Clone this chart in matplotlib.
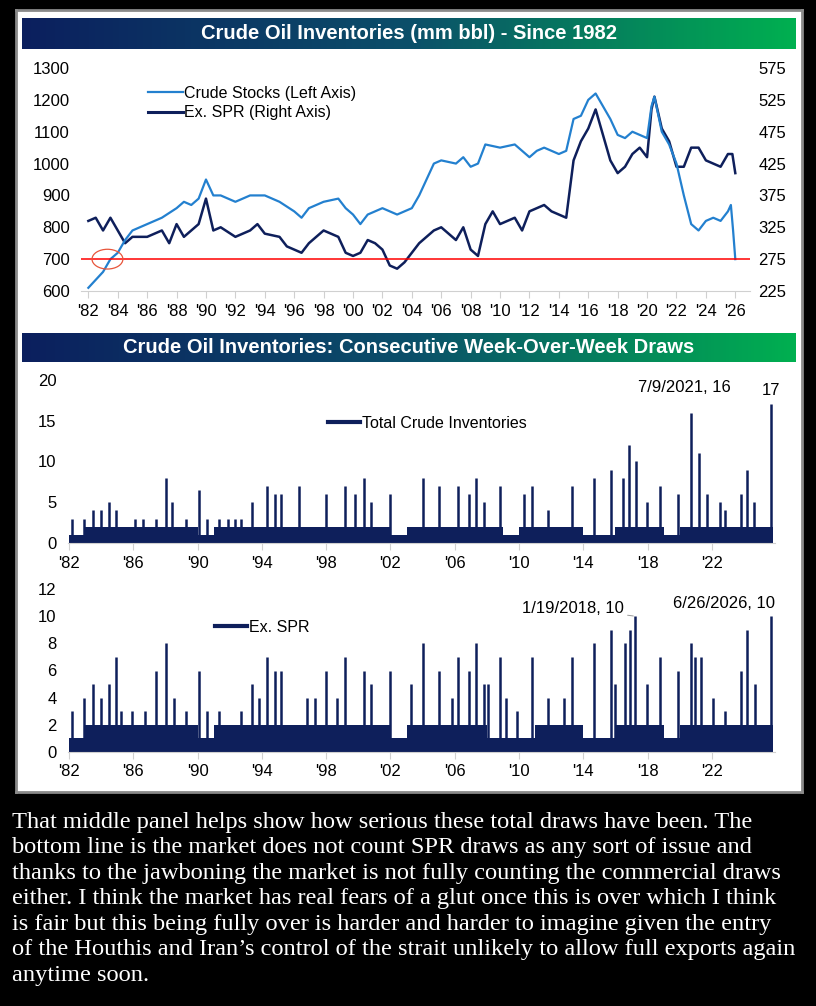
import matplotlib.pyplot as plt
import numpy as np
from matplotlib import font_manager
from matplotlib.patches import Ellipse
from matplotlib.colors import LinearSegmentedColormap

names = {f.name for f in font_manager.fontManager.ttflist}
SANS = ["Liberation Sans Narrow", "DejaVu Sans"] if "Liberation Sans Narrow" in names else ["Liberation Sans", "DejaVu Sans"]
plt.rcParams["font.family"] = SANS

NAVY = "#0E1F5B"
BLUE = "#2380CF"
GREY = "#D0D0D0"

# --- top panel: total crude stocks (left axis, mm bbl)
stock_years = [1982.0, 1983.0, 1983.5, 1984.0, 1984.5, 1985.0, 1986.0, 1987.0, 1988.0, 1988.5,
               1989.0, 1989.5, 1990.0, 1990.5, 1991.0, 1992.0, 1993.0, 1994.0, 1995.0, 1996.0,
               1996.5, 1997.0, 1998.0, 1999.0, 1999.5, 2000.0, 2000.5, 2001.0, 2002.0, 2003.0,
               2004.0, 2004.5, 2005.0, 2005.5, 2006.0, 2007.0, 2007.5, 2008.0, 2008.5, 2009.0,
               2010.0, 2011.0, 2012.0, 2012.5, 2013.0, 2014.0, 2014.5, 2015.0, 2015.5, 2016.0,
               2016.5, 2017.0, 2017.5, 2018.0, 2018.5, 2019.0, 2019.5, 2020.0, 2020.3, 2020.5,
               2021.0, 2021.5, 2022.0, 2022.5, 2023.0, 2023.5, 2024.0, 2024.5, 2025.0, 2025.5,
               2025.7, 2025.85, 2026.0]
stock_vals = [610, 660, 700, 720, 760, 790, 810, 830, 860, 880,
              870, 890, 950, 900, 900, 880, 900, 900, 880, 850,
              830, 860, 880, 890, 860, 840, 810, 840, 860, 840,
              860, 900, 950, 1000, 1010, 1000, 1020, 990, 1000, 1060,
              1050, 1060, 1020, 1040, 1050, 1030, 1040, 1140, 1150, 1200,
              1220, 1180, 1140, 1090, 1080, 1100, 1090, 1080, 1180, 1210,
              1100, 1060, 1000, 900, 810, 790, 820, 830, 820, 850,
              870, 790, 700]

# Ex. SPR (right axis)
spr_years = [1982.0, 1982.5, 1983.0, 1983.5, 1984.0, 1984.5, 1985.0, 1986.0, 1987.0, 1987.5,
             1988.0, 1988.5, 1989.0, 1989.5, 1990.0, 1990.5, 1991.0, 1992.0, 1993.0, 1993.5,
             1994.0, 1995.0, 1995.5, 1996.0, 1996.5, 1997.0, 1998.0, 1998.5, 1999.0, 1999.5,
             2000.0, 2000.5, 2001.0, 2001.5, 2002.0, 2002.5, 2003.0, 2003.5, 2004.0, 2004.5,
             2005.0, 2005.5, 2006.0, 2007.0, 2007.5, 2008.0, 2008.5, 2009.0, 2009.5, 2010.0,
             2011.0, 2011.5, 2012.0, 2013.0, 2013.5, 2014.0, 2014.5, 2015.0, 2015.5, 2016.0,
             2016.5, 2017.0, 2017.5, 2018.0, 2018.5, 2019.0, 2019.5, 2020.0, 2020.3, 2020.5,
             2021.0, 2021.5, 2022.0, 2022.5, 2023.0, 2023.5, 2024.0, 2024.5, 2025.0, 2025.5,
             2025.8, 2026.0]
spr_vals = [335, 340, 320, 340, 320, 300, 310, 310, 320, 300,
            330, 310, 320, 330, 370, 320, 325, 310, 320, 330,
            315, 310, 295, 290, 285, 300, 320, 315, 310, 285,
            280, 285, 305, 300, 290, 265, 260, 270, 285, 300,
            310, 320, 325, 305, 325, 290, 280, 330, 350, 330,
            340, 320, 350, 360, 350, 345, 340, 430, 460, 480,
            510, 470, 430, 410, 420, 440, 450, 435, 510, 530,
            480, 460, 420, 420, 450, 450, 430, 425, 420, 440,
            440, 410]

# --- consecutive week-over-week draws
floor_years = list(range(1982, 2026))
total_floor = [1, 2, 2, 2, 2, 2, 2, 2, 1, 2, 2, 2, 2, 2, 2, 2, 2, 2, 2, 2, 1, 2,
               2, 2, 2, 2, 2, 1, 2, 2, 2, 2, 1, 1, 2, 2, 2, 1, 2, 2, 2, 2, 2, 2]
spr_floor = [1, 2, 2, 2, 2, 2, 2, 2, 1, 2, 2, 2, 2, 2, 2, 2, 2, 2, 2, 2, 1, 2,
             2, 2, 2, 2, 1, 1, 1, 2, 2, 2, 1, 1, 2, 2, 2, 1, 2, 2, 2, 2, 2, 2]

total_spike_years = [1982.2, 1982.9, 1983.5, 1984.0, 1984.5, 1984.9, 1986.1, 1986.6, 1987.4, 1988.05,
                     1988.4, 1989.3, 1990.1, 1990.6, 1991.3, 1991.9, 1992.3, 1992.7, 1993.4, 1994.3,
                     1994.8, 1995.2, 1996.3, 1998.0, 1999.2, 1999.8, 2000.35, 2000.8, 2002.0, 2004.0,
                     2005.0, 2006.2, 2006.9, 2007.3, 2007.8, 2008.8, 2010.3, 2010.8, 2011.8, 2013.3,
                     2014.65, 2015.7, 2016.5, 2016.85, 2017.3, 2017.95, 2018.8, 2019.9, 2020.7, 2021.2,
                     2021.7, 2022.5, 2022.8, 2023.8, 2024.2, 2024.6, 2025.7]
total_spike_vals = [3, 3, 4, 4, 5, 4, 3, 3, 3, 8,
                    5, 3, 6.5, 3, 3, 3, 3, 3, 5, 7,
                    6, 6, 7, 6, 7, 6, 8, 5, 6, 8,
                    7, 7, 6, 8, 5, 7, 6, 7, 4, 7,
                    8, 9, 8, 12, 10, 5, 7, 6, 16, 11,
                    6, 5, 4, 6, 9, 5, 17]

spr_spike_years = [1982.2, 1982.9, 1983.5, 1984.0, 1984.5, 1984.9, 1985.2, 1985.9, 1986.7, 1987.4,
                   1988.05, 1988.5, 1989.3, 1990.1, 1990.6, 1991.3, 1992.7, 1993.4, 1993.8, 1994.3,
                   1994.8, 1995.2, 1996.8, 1997.3, 1998.0, 1998.7, 1999.2, 2000.35, 2000.8, 2002.0,
                   2003.3, 2004.0, 2005.0, 2005.85, 2006.2, 2006.9, 2007.3, 2007.8, 2008.1, 2008.8,
                   2009.2, 2009.9, 2010.8, 2011.8, 2012.8, 2013.3, 2014.65, 2015.2, 2015.7, 2016.0,
                   2016.6, 2016.9, 2017.2, 2017.95, 2018.8, 2019.9, 2020.7, 2020.95, 2021.3, 2022.1,
                   2022.8, 2023.8, 2024.2, 2024.7, 2025.7]
spr_spike_vals = [3, 4, 5, 4, 5, 7, 3, 3, 3, 6,
                  8, 4, 3, 6, 3, 3, 3, 5, 4, 7,
                  6, 6, 4, 4, 6, 4, 7, 6, 5, 6,
                  5, 8, 6, 4, 7, 6, 8, 5, 5, 7,
                  4, 3, 7, 4, 4, 7, 8, 1, 9, 5,
                  8, 9, 10, 5, 7, 6, 8, 7, 7, 4,
                  3, 6, 9, 5, 10]

top_ticks = list(range(1982, 2027, 2))
low_ticks = list(range(1982, 2023, 4))

paragraph = ("That middle panel helps show how serious these total draws have been. The\n"
             "bottom line is the market does not count SPR draws as any sort of issue and\n"
             "thanks to the jawboning the market is not fully counting the commercial draws\n"
             "either. I think the market has real fears of a glut once this is over which I think\n"
             "is fair but this being fully over is harder and harder to imagine given the entry\n"
             "of the Houthis and Iran\u2019s control of the strait unlikely to allow full exports again\n"
             "anytime soon.")

W, H = 816, 1006
fig = plt.figure(figsize=(W / 100, H / 100), dpi=100, facecolor="black")


def fx(px):
    return px / W


def fy(py):
    return 1 - py / H


# white panel behind everything
bg = fig.add_axes([fx(16), fy(792), fx(786), 782 / H])
bg.set_facecolor("white")
bg.set_xticks([])
bg.set_yticks([])
for s in bg.spines.values():
    s.set_color("#8a8a8a")
    s.set_linewidth(2)

grad = np.linspace(0, 1, 256).reshape(1, -1)
gcmap = LinearSegmentedColormap.from_list("bar", ["#0B1F5E", "#0B4F6A", "#00B050"])


def title_bar(top, bottom, text):
    ax = fig.add_axes([fx(22), fy(bottom), fx(774), (bottom - top) / H])
    ax.imshow(grad, aspect="auto", cmap=gcmap, extent=[0, 1, 0, 1])
    ax.set_axis_off()
    ax.text(0.5, 0.5, text, color="white", fontsize=14.5, fontweight="bold",
            ha="center", va="center", transform=ax.transAxes)


title_bar(18, 49, "Crude Oil Inventories (mm bbl) - Since 1982")
title_bar(333, 362, "Crude Oil Inventories: Consecutive Week-Over-Week Draws")


def style(ax):
    for s in ["top", "right", "left"]:
        ax.spines[s].set_visible(False)
    ax.spines["bottom"].set_color(GREY)
    ax.tick_params(axis="y", length=0, labelsize=12, pad=8)
    ax.tick_params(axis="x", length=5, color=GREY, labelsize=12, pad=4)
    ax.set_facecolor("none")


# top chart
ax1 = fig.add_axes([fx(81), fy(291), fx(669), 223 / H])
ax1r = ax1.twinx()
ax1.plot(stock_years, stock_vals, color=BLUE, linewidth=1.6, label="Crude Stocks (Left Axis)")
ax1.plot([], [], color=NAVY, linewidth=2.2, label="Ex. SPR (Right Axis)")
ax1.axhline(700, color="red", linewidth=1.1, zorder=5)
ax1.add_patch(Ellipse((1983.3, 700), 2.1, 62, fill=False, edgecolor="#E8553B", linewidth=0.9, zorder=6))
ax1.set_xlim(1981.5, 2027)
ax1.set_ylim(600, 1300)
ax1.set_yticks(range(600, 1301, 100))
ax1.set_xticks(top_ticks)
ax1.set_xticklabels(["'" + str(y)[2:] for y in top_ticks])
style(ax1)
ax1.legend(loc="upper left", bbox_to_anchor=(0.09, 0.95), frameon=False, fontsize=11.5,
           handlelength=2.2, handletextpad=0.1, borderaxespad=0, labelspacing=0.3)
ax1r.plot(spr_years, spr_vals, color=NAVY, linewidth=1.8)
ax1r.set_ylim(225, 575)
ax1r.set_yticks([225, 275, 325, 375, 425, 475, 525, 575])
for s in ["top", "right", "left", "bottom"]:
    ax1r.spines[s].set_visible(False)
ax1r.tick_params(axis="y", length=0, labelsize=12, pad=6)
ax1.set_zorder(ax1r.get_zorder() + 1)
ax1.patch.set_visible(False)


def draw_panel(box, floor, sy, sv, ymax, yticks, label, legend_anchor):
    ax = fig.add_axes(box)
    ax.fill_between(floor_years + [2025.8], floor + [floor[-1]], step="post",
                    color=NAVY, linewidth=0)
    ax.vlines(sy, 0, sv, color=NAVY, linewidth=1.8)
    ax.plot([], [], color=NAVY, linewidth=3, label=label)
    ax.set_xlim(1981.9, 2025.9)
    ax.set_ylim(0, ymax)
    ax.set_yticks(yticks)
    ax.set_xticks(low_ticks)
    ax.set_xticklabels(["'" + str(y)[2:] for y in low_ticks])
    style(ax)
    ax.legend(loc="upper left", bbox_to_anchor=legend_anchor, frameon=False, fontsize=11.5,
              handlelength=2.0, handletextpad=0.1, borderaxespad=0)
    return ax


ax2 = draw_panel([fx(67.5), fy(543), fx(707), 163 / H], total_floor, total_spike_years,
                 total_spike_vals, 20, [0, 5, 10, 15, 20], "Total Crude Inventories", (0.36, 0.82))
ax2.text(2020.3, 18.2, "7/9/2021, 16", fontsize=12, ha="center", va="bottom")
ax2.text(2025.7, 17.8, "17", fontsize=12, ha="center", va="bottom")

ax3 = draw_panel([fx(67.5), fy(752), fx(707), 163 / H], spr_floor, spr_spike_years,
                 spr_spike_vals, 12, [0, 2, 4, 6, 8, 10, 12], "Ex. SPR", (0.2, 0.85))
ax3.annotate("1/19/2018, 10", xy=(2017.2, 10), xytext=(2016.5, 10.6), fontsize=12,
             ha="right", va="center",
             arrowprops=dict(arrowstyle="-", color="#999999", linewidth=0.7, shrinkA=1, shrinkB=1))
ax3.text(2025.9, 10.4, "6/26/2026, 10", fontsize=12, ha="right", va="bottom")

fig.text(fx(12), fy(812), paragraph, color="white", fontsize=17.6, family="Liberation Serif",
         ha="left", va="top", linespacing=1.28)

fig.savefig("out.png", dpi=100, facecolor="black")
